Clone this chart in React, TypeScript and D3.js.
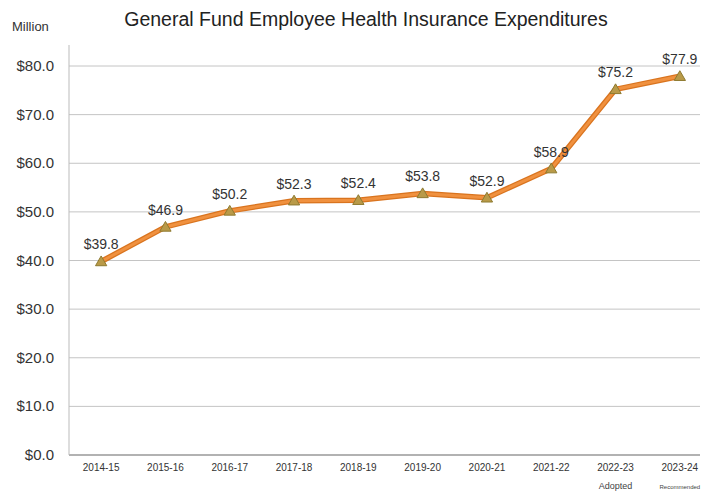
import React from "react";
import * as d3 from "d3";

const categories = ["2014-15","2015-16","2016-17","2017-18","2018-19","2019-20","2020-21","2021-22","2022-23","2023-24"];
const values = [39.8, 46.9, 50.2, 52.3, 52.4, 53.8, 52.9, 58.9, 75.2, 77.9];
const yTicks = [0, 10, 20, 30, 40, 50, 60, 70, 80];
const subLabels: Record<string, string> = { "2022-23": "Adopted", "2023-24": "Recommended" };

export default function App() {
  const W = 706, H = 493;
  const left = 69, top = 45, bottom = 455;
  const x = d3.scaleBand().domain(categories).range([left, left + 643]);
  const y = d3.scaleLinear().domain([0, 80]).range([bottom, 66]);
  const cx = (c: string) => (x(c) as number) + x.bandwidth() / 2;
  const line = d3.line<number>().x((_, i) => cx(categories[i])).y(v => y(v));
  const tri = d3.symbol().type(d3.symbolTriangle).size(55)();
  const font = "Liberation Sans, Arial, sans-serif";
  return (
    <svg width={W} height={H} style={{ position: "absolute", left: 0, top: 0, background: "#fff" }} fontFamily={font}>
      <text x={366} y={26} textAnchor="middle" fontSize={19.5} fill="#222">General Fund Employee Health Insurance Expenditures</text>
      <text x={12} y={31} fontSize={13} fill="#333">Million</text>
      {yTicks.map(t => (
        <g key={t}>
          <line x1={left} x2={700} y1={y(t)} y2={y(t)} stroke={t === 0 ? "#999" : "#c4c4c4"} strokeWidth={t === 0 ? 1.5 : 1} />
          <text x={54} y={y(t) + 5} textAnchor="end" fontSize={15} fill="#333">{"$" + t.toFixed(1)}</text>
        </g>
      ))}
      <line x1={left} x2={left} y1={top} y2={bottom} stroke="#bbb" strokeWidth={1} />
      {categories.map(c => (
        <g key={c}>
          <text x={cx(c)} y={471} textAnchor="middle" fontSize={10} fill="#333">{c}</text>
          {subLabels[c] && (
            <text x={cx(c)} y={489} textAnchor="middle" fontSize={c === "2023-24" ? 6 : 9} fill="#444">{subLabels[c]}</text>
          )}
        </g>
      ))}
      <path d={line(values) as string} fill="none" stroke="#D9741F" strokeWidth={5.5} strokeLinejoin="round" />
      <path d={line(values) as string} fill="none" stroke="#F0913F" strokeWidth={3} strokeLinejoin="round" />
      {values.map((v, i) => (
        <path key={i} d={tri as string} transform={`translate(${cx(categories[i])},${y(v) + 1})`} fill="#B99A48" stroke="#8E7A30" strokeWidth={1} />
      ))}
      {values.map((v, i) => (
        <text key={"l" + i} x={cx(categories[i])} y={y(v) - 12} textAnchor="middle" fontSize={14} fill="#333">{"$" + v.toFixed(1)}</text>
      ))}
    </svg>
  );
}
